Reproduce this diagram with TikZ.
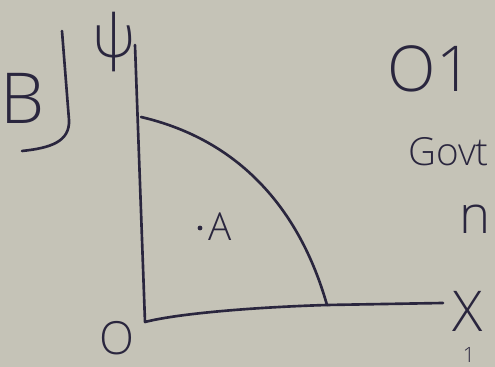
\documentclass[tikz,border=0pt]{standalone}
\usepackage{fontspec}
\setmainfont{Open Sans Light}[BoldFont=Open Sans]
\definecolor{paper}{RGB}{197,195,183}
\definecolor{inkc}{RGB}{42,38,62}
\begin{document}
\begin{tikzpicture}[x=0.02cm,y=-0.02cm,
  ink/.style={draw=inkc, line width=1.5pt, line cap=round, line join=round},
  lbl/.style={text=inkc, inner sep=0pt}]
\fill[paper] (0,0) rectangle (495,367);
\useasboundingbox (0,0) rectangle (495,367);
% axes
\coordinate (ytop) at (135,45);
\coordinate (O) at (145,322);
\coordinate (xmid) at (327,305);
\coordinate (xend) at (443,303);
\coordinate (ycut) at (141,117);
\draw[ink] (ytop) -- (O) .. controls (180,313) and (260,307) .. (xmid) -- (xend);
\draw[ink] (ycut) .. controls (240,140) and (300,210) .. (xmid);
% B with bracket
\node[lbl, font=\fontsize{40}{40}\selectfont] (B) at (23,98) {B};
\coordinate (bt) at (62,31);
\coordinate (bb) at (22,151);
\draw[ink] (bt) -- (69,120) .. controls (70,142) and (50,148) .. (bb);
% labels
\node[lbl, font=\fontsize{34}{34}\selectfont] (psi) at (114,42) {ψ};
\node[lbl, font=\fontsize{26}{26}\selectfont] (Olab) at (117,338) {O};
\node[lbl, font=\fontsize{32}{32}\selectfont] (Xlab) at (468,311) {X};
\fill[inkc] (200,228) circle (2.4);
\node[lbl, font=\fontsize{22}{22}\selectfont] (A) at (220,227) {A};
% right-hand notes
\node[lbl, font=\fontsize{36}{36}\selectfont] (O1) at (430,69) {O1};
\node[lbl, font=\fontsize{22}{22}\selectfont, anchor=west] (govt) at (408,152) {Govt};
\node[lbl, font=\fontsize{30}{30}\selectfont] (n) at (475,219) {n};
\node[lbl, font=\fontsize{12}{12}\selectfont] (one) at (469,355) {1};
\end{tikzpicture}
\end{document}
